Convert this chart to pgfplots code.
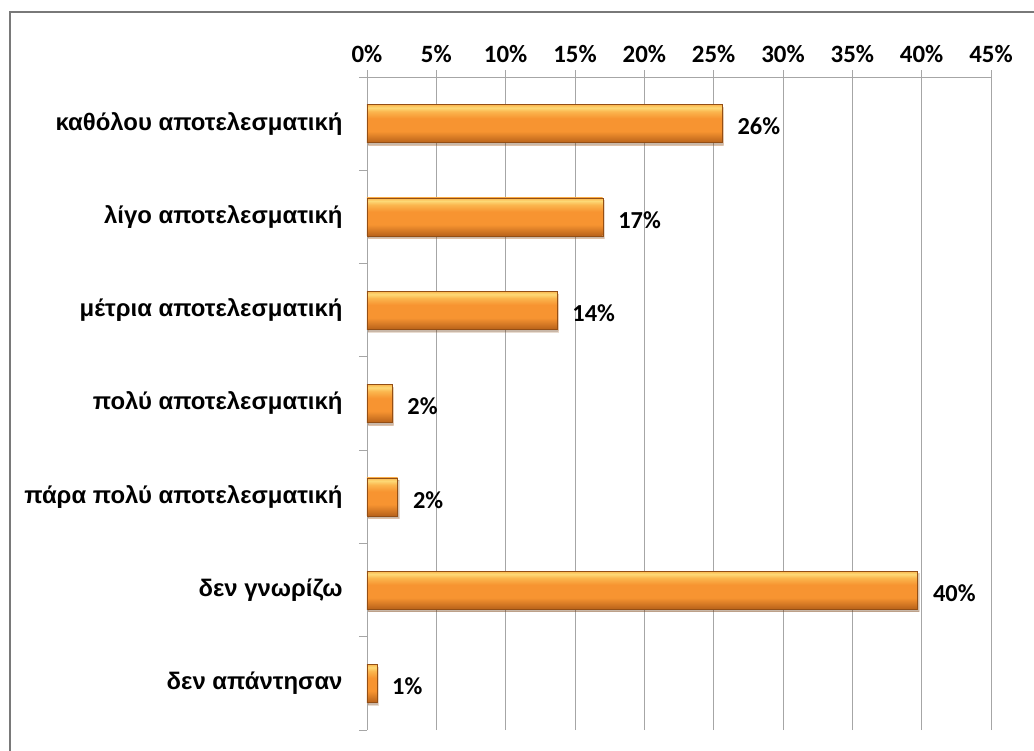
\documentclass[border=0pt]{standalone}
\usepackage{fontspec}
\setmainfont{Carlito}
\newfontfamily\grk{Liberation Sans}
\usepackage{pgfplots}
\pgfplotsset{compat=1.18}
\usetikzlibrary{shadows}
\definecolor{barD}{HTML}{B8621A}
\definecolor{barM}{HTML}{F79431}
\definecolor{barL}{HTML}{FBB64E}
\definecolor{barH}{HTML}{FDD976}
\definecolor{gridc}{HTML}{A6A6A6}
\pgfdeclareverticalshading{barshade}{100bp}{color(0bp)=(barD); color(25bp)=(barD); color(31bp)=(barD!60!barM); color(40bp)=(barM); color(57bp)=(barM); color(66bp)=(barL); color(71bp)=(barH); color(75bp)=(barL); color(100bp)=(barL)}
\pgfplotsset{barsty/.style={shade, shading=barshade, draw=barD!80!black, line width=0.4bp,
  drop shadow={shadow xshift=1.5bp, shadow yshift=-2.5bp, opacity=0.2, fill=black}}}
\begin{document}
\begin{tikzpicture}
\useasboundingbox (-367bp,-21bp) rectangle (667bp,730bp);
\draw[gray!95!black, line width=1.6bp] (-357bp,718bp) rectangle (720bp,-80bp);
\begin{axis}[
  at={(0,0)}, anchor=south west,
  scale only axis, width=624bp, height=653bp,
  xmin=0, xmax=45, ymin=-0.5, ymax=6.5,
  axis x line*=top, axis y line*=left,
  axis line style={gridc, line width=0.9bp, -},
  xtick={0,5,...,45},
  xticklabel={\pgfmathprintnumber[assume math mode=true]{\tick}\%},
  xticklabel style={font=\fontsize{25}{27}\selectfont\bfseries, yshift=4bp},
  xmajorgrids, grid style={gridc, line width=0.9bp},
  tick align=outside, major tick length=7bp, minor tick length=8bp,
  major x tick style={gridc, line width=0.9bp},
  ytick={0,...,6},
  yticklabels={δεν απάντησαν, δεν γνωρίζω, πάρα πολύ αποτελεσματική, πολύ αποτελεσματική, μέτρια αποτελεσματική, λίγο αποτελεσματική, καθόλου αποτελεσματική},
  yticklabel style={font=\grk\fontsize{24}{28}\selectfont\bfseries, xshift=-14bp},
  major y tick style={draw=none},
  minor ytick={-0.5,0.5,...,6.5},
  minor y tick style={gridc, line width=0.9bp},
  xbar, bar width=38bp, bar shift=0pt,
  point meta=x,
  nodes near coords={\pgfmathprintnumber[fixed,precision=0,assume math mode=true]{\pgfplotspointmeta}\%},
  nodes near coords style={font=\fontsize{24.5}{26}\selectfont\bfseries, anchor=west, xshift=12bp, yshift=-3bp},
  clip=false,
]
\addplot[barsty] coordinates {(25.6,6)};
\addplot[barsty] coordinates {(17.0,5)};
\addplot[barsty] coordinates {(13.7,4)};
\addplot[barsty] coordinates {(1.8,3)};
\addplot[barsty] coordinates {(2.2,2)};
\addplot[barsty] coordinates {(39.7,1)};
\addplot[barsty] coordinates {(0.7,0)};
\end{axis}
\end{tikzpicture}
\end{document}
